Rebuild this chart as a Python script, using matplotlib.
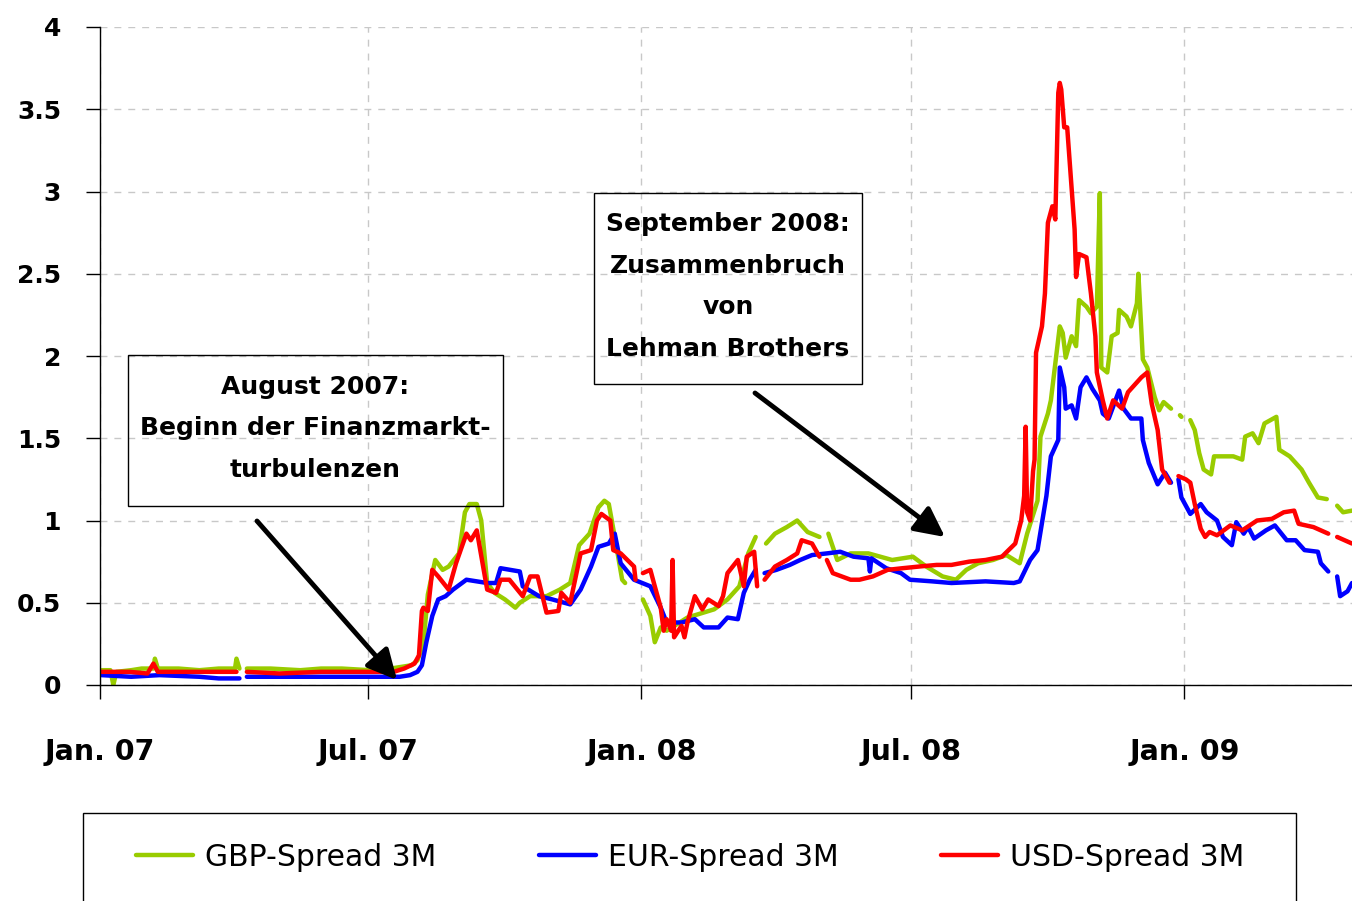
import matplotlib
matplotlib.use("Agg")
import matplotlib.pyplot as plt
from matplotlib.patches import Rectangle
import numpy as np
import pandas as pd

plt.rcParams['font.family'] = ['DejaVu Sans']

nan = np.nan

# GBP-Spread 3M (date, value); nan = no quote
gbp = [("2007-01-02", 0.09), ("2007-01-08", 0.09), ("2007-01-10", 0.00), ("2007-01-12", 0.08),
       ("2007-01-22", 0.09), ("2007-01-29", 0.10), ("2007-02-06", 0.10), ("2007-02-07", 0.16),
       ("2007-02-09", 0.10), ("2007-02-23", 0.10), ("2007-03-09", 0.09), ("2007-03-22", 0.10),
       ("2007-04-02", 0.10), ("2007-04-03", 0.16), ("2007-04-05", 0.10), ("2007-04-06", nan),
       ("2007-04-10", 0.10), ("2007-04-26", 0.10), ("2007-05-16", 0.09), ("2007-05-30", 0.10),
       ("2007-06-13", 0.10), ("2007-07-02", 0.09), ("2007-07-16", 0.10), ("2007-07-23", 0.11),
       ("2007-07-30", 0.12), ("2007-08-03", 0.15), ("2007-08-07", 0.25), ("2007-08-10", 0.55),
       ("2007-08-15", 0.76), ("2007-08-20", 0.70), ("2007-08-24", 0.72), ("2007-08-31", 0.80),
       ("2007-09-04", 1.05), ("2007-09-07", 1.10), ("2007-09-12", 1.10), ("2007-09-15", 1.00),
       ("2007-09-19", 0.62), ("2007-09-24", 0.56), ("2007-10-01", 0.52), ("2007-10-08", 0.47),
       ("2007-10-11", 0.50), ("2007-10-18", 0.54), ("2007-10-29", 0.54), ("2007-11-07", 0.58),
       ("2007-11-14", 0.62), ("2007-11-20", 0.85), ("2007-11-27", 0.92), ("2007-12-03", 1.08),
       ("2007-12-07", 1.12), ("2007-12-10", 1.10), ("2007-12-14", 0.90), ("2007-12-19", 0.64),
       ("2007-12-21", 0.62), ("2007-12-27", nan), ("2008-01-02", 0.52), ("2008-01-07", 0.42),
       ("2008-01-10", 0.26), ("2008-01-14", 0.35), ("2008-01-18", 0.33), ("2008-02-01", 0.41),
       ("2008-02-19", 0.46), ("2008-02-28", 0.52), ("2008-03-07", 0.60), ("2008-03-13", 0.80),
       ("2008-03-18", 0.90), ("2008-03-21", nan), ("2008-03-25", 0.86), ("2008-03-31", 0.92),
       ("2008-04-08", 0.96), ("2008-04-15", 1.00), ("2008-04-22", 0.93), ("2008-04-30", 0.90),
       ("2008-05-02", nan), ("2008-05-06", 0.92), ("2008-05-12", 0.76), ("2008-05-21", 0.80),
       ("2008-06-02", 0.80), ("2008-06-10", 0.78), ("2008-06-18", 0.76), ("2008-07-02", 0.78),
       ("2008-07-11", 0.72), ("2008-07-22", 0.66), ("2008-07-31", 0.64), ("2008-08-07", 0.70),
       ("2008-08-15", 0.74), ("2008-08-25", 0.76), ("2008-09-03", 0.79), ("2008-09-12", 0.74),
       ("2008-09-17", 0.92), ("2008-09-24", 1.12), ("2008-09-26", 1.51), ("2008-10-01", 1.65),
       ("2008-10-03", 1.73), ("2008-10-09", 2.18), ("2008-10-11", 2.14), ("2008-10-13", 1.99),
       ("2008-10-17", 2.12), ("2008-10-20", 2.06), ("2008-10-22", 2.34), ("2008-10-27", 2.30),
       ("2008-10-30", 2.26), ("2008-11-03", 2.30), ("2008-11-05", 2.99), ("2008-11-06", 1.93),
       ("2008-11-10", 1.90), ("2008-11-13", 2.12), ("2008-11-17", 2.14), ("2008-11-18", 2.28),
       ("2008-11-23", 2.24), ("2008-11-26", 2.18), ("2008-11-30", 2.32), ("2008-12-01", 2.50),
       ("2008-12-04", 1.98), ("2008-12-07", 1.93), ("2008-12-12", 1.75), ("2008-12-15", 1.67),
       ("2008-12-18", 1.72), ("2008-12-23", 1.68), ("2008-12-26", nan), ("2008-12-29", 1.64),
       ("2008-12-30", 1.63), ("2009-01-01", nan), ("2009-01-05", 1.61), ("2009-01-08", 1.55),
       ("2009-01-11", 1.41), ("2009-01-14", 1.31), ("2009-01-19", 1.28), ("2009-01-21", 1.39),
       ("2009-02-03", 1.39), ("2009-02-09", 1.37), ("2009-02-11", 1.51), ("2009-02-16", 1.53),
       ("2009-02-20", 1.47), ("2009-02-24", 1.59), ("2009-03-04", 1.63), ("2009-03-06", 1.43),
       ("2009-03-13", 1.39), ("2009-03-21", 1.31), ("2009-03-26", 1.23), ("2009-04-01", 1.14),
       ("2009-04-07", 1.13), ("2009-04-10", nan), ("2009-04-14", 1.09), ("2009-04-18", 1.05),
       ("2009-04-24", 1.06)]

# EUR-Spread 3M
eur = [("2007-01-02", 0.06), ("2007-01-22", 0.05), ("2007-02-10", 0.06), ("2007-03-09", 0.05),
       ("2007-03-22", 0.04), ("2007-04-05", 0.04), ("2007-04-06", nan), ("2007-04-10", 0.05),
       ("2007-05-16", 0.05), ("2007-06-13", 0.05), ("2007-07-01", 0.05), ("2007-07-22", 0.05),
       ("2007-07-29", 0.06), ("2007-08-03", 0.08), ("2007-08-06", 0.12), ("2007-08-09", 0.26),
       ("2007-08-13", 0.42), ("2007-08-17", 0.52), ("2007-08-22", 0.54), ("2007-08-27", 0.58),
       ("2007-09-05", 0.64), ("2007-09-19", 0.62), ("2007-09-25", 0.62), ("2007-09-28", 0.71),
       ("2007-10-11", 0.69), ("2007-10-13", 0.60), ("2007-10-24", 0.54), ("2007-11-02", 0.52),
       ("2007-11-14", 0.49), ("2007-11-21", 0.58), ("2007-11-28", 0.72), ("2007-12-03", 0.84),
       ("2007-12-10", 0.86), ("2007-12-14", 0.92), ("2007-12-18", 0.74), ("2007-12-27", 0.64),
       ("2008-01-07", 0.60), ("2008-01-14", 0.47), ("2008-01-18", 0.38), ("2008-01-28", 0.38),
       ("2008-02-06", 0.40), ("2008-02-12", 0.35), ("2008-02-22", 0.35), ("2008-02-28", 0.41),
       ("2008-03-06", 0.40), ("2008-03-10", 0.56), ("2008-03-14", 0.64), ("2008-03-18", 0.70),
       ("2008-03-21", nan), ("2008-03-24", 0.68), ("2008-04-01", 0.70), ("2008-04-10", 0.73),
       ("2008-04-17", 0.76), ("2008-04-25", 0.79), ("2008-05-05", 0.80), ("2008-05-14", 0.81),
       ("2008-05-23", 0.78), ("2008-06-02", 0.77), ("2008-06-03", 0.69), ("2008-06-04", 0.77),
       ("2008-06-14", 0.71), ("2008-06-24", 0.68), ("2008-06-30", 0.64), ("2008-07-15", 0.63),
       ("2008-07-28", 0.62), ("2008-08-20", 0.63), ("2008-09-08", 0.62), ("2008-09-12", 0.63),
       ("2008-09-19", 0.76), ("2008-09-24", 0.82), ("2008-09-30", 1.15), ("2008-10-03", 1.39),
       ("2008-10-08", 1.49), ("2008-10-09", 1.93), ("2008-10-12", 1.81), ("2008-10-13", 1.68),
       ("2008-10-17", 1.70), ("2008-10-20", 1.62), ("2008-10-23", 1.81), ("2008-10-27", 1.87),
       ("2008-10-31", 1.80), ("2008-11-05", 1.73), ("2008-11-07", 1.65), ("2008-11-11", 1.62),
       ("2008-11-18", 1.79), ("2008-11-21", 1.68), ("2008-11-26", 1.62), ("2008-12-03", 1.62),
       ("2008-12-04", 1.49), ("2008-12-08", 1.35), ("2008-12-14", 1.22), ("2008-12-19", 1.29),
       ("2008-12-23", 1.23), ("2008-12-25", nan), ("2008-12-28", 1.25), ("2008-12-30", 1.14),
       ("2009-01-05", 1.04), ("2009-01-12", 1.10), ("2009-01-16", 1.05), ("2009-01-23", 1.00),
       ("2009-01-27", 0.90), ("2009-02-02", 0.85), ("2009-02-05", 0.99), ("2009-02-10", 0.92),
       ("2009-02-13", 0.96), ("2009-02-17", 0.89), ("2009-02-25", 0.94), ("2009-03-03", 0.97),
       ("2009-03-11", 0.88), ("2009-03-17", 0.88), ("2009-03-23", 0.82), ("2009-04-01", 0.81),
       ("2009-04-03", 0.74), ("2009-04-08", 0.69), ("2009-04-10", nan), ("2009-04-14", 0.66),
       ("2009-04-16", 0.54), ("2009-04-21", 0.57), ("2009-04-24", 0.62)]

# USD-Spread 3M
usd = [("2007-01-02", 0.08), ("2007-01-21", 0.08), ("2007-02-02", 0.07), ("2007-02-06", 0.13),
       ("2007-02-09", 0.08), ("2007-03-09", 0.08), ("2007-04-03", 0.08), ("2007-04-06", nan),
       ("2007-04-10", 0.08), ("2007-05-02", 0.07), ("2007-05-30", 0.08), ("2007-07-01", 0.08),
       ("2007-07-18", 0.08), ("2007-07-25", 0.10), ("2007-08-01", 0.13), ("2007-08-04", 0.18),
       ("2007-08-06", 0.45), ("2007-08-07", 0.47), ("2007-08-10", 0.45), ("2007-08-13", 0.70),
       ("2007-08-17", 0.66), ("2007-08-24", 0.58), ("2007-08-29", 0.74), ("2007-09-05", 0.92),
       ("2007-09-08", 0.88), ("2007-09-12", 0.94), ("2007-09-19", 0.58), ("2007-09-25", 0.56),
       ("2007-09-28", 0.64), ("2007-10-04", 0.64), ("2007-10-13", 0.54), ("2007-10-18", 0.66),
       ("2007-10-23", 0.66), ("2007-10-29", 0.44), ("2007-11-06", 0.45), ("2007-11-08", 0.56),
       ("2007-11-14", 0.50), ("2007-11-21", 0.80), ("2007-11-28", 0.82), ("2007-12-02", 1.00),
       ("2007-12-05", 1.04), ("2007-12-11", 1.00), ("2007-12-13", 0.82), ("2007-12-18", 0.80),
       ("2007-12-27", 0.72), ("2007-12-28", 0.64), ("2007-12-31", nan), ("2008-01-02", 0.68),
       ("2008-01-07", 0.70), ("2008-01-10", 0.60), ("2008-01-14", 0.47), ("2008-01-16", 0.33),
       ("2008-01-18", 0.40), ("2008-01-21", 0.33), ("2008-01-22", 0.76), ("2008-01-23", 0.29),
       ("2008-01-28", 0.36), ("2008-01-30", 0.29), ("2008-02-01", 0.38), ("2008-02-06", 0.54),
       ("2008-02-11", 0.46), ("2008-02-15", 0.52), ("2008-02-22", 0.48), ("2008-02-25", 0.54),
       ("2008-02-28", 0.68), ("2008-03-06", 0.76), ("2008-03-10", 0.60), ("2008-03-12", 0.78),
       ("2008-03-17", 0.81), ("2008-03-19", 0.60), ("2008-03-21", nan), ("2008-03-24", 0.64),
       ("2008-03-31", 0.72), ("2008-04-08", 0.76), ("2008-04-15", 0.80), ("2008-04-18", 0.88),
       ("2008-04-25", 0.86), ("2008-04-30", 0.78), ("2008-05-02", nan), ("2008-05-05", 0.76),
       ("2008-05-09", 0.68), ("2008-05-21", 0.64), ("2008-05-27", 0.64), ("2008-06-05", 0.66),
       ("2008-06-15", 0.70), ("2008-06-25", 0.71), ("2008-07-06", 0.72), ("2008-07-18", 0.73),
       ("2008-07-28", 0.73), ("2008-08-09", 0.75), ("2008-08-20", 0.76), ("2008-08-31", 0.78),
       ("2008-09-09", 0.86), ("2008-09-13", 1.00), ("2008-09-15", 1.15), ("2008-09-16", 1.57),
       ("2008-09-17", 1.05), ("2008-09-19", 1.00), ("2008-09-21", 1.30), ("2008-09-22", 1.37),
       ("2008-09-23", 2.02), ("2008-09-27", 2.18), ("2008-09-29", 2.38), ("2008-10-01", 2.81),
       ("2008-10-04", 2.91), ("2008-10-06", 2.83), ("2008-10-08", 3.60), ("2008-10-09", 3.66),
       ("2008-10-10", 3.62), ("2008-10-12", 3.39), ("2008-10-14", 3.39), ("2008-10-19", 2.77),
       ("2008-10-20", 2.48), ("2008-10-22", 2.62), ("2008-10-27", 2.60), ("2008-10-30", 2.38),
       ("2008-11-02", 2.12), ("2008-11-03", 1.90), ("2008-11-07", 1.73), ("2008-11-10", 1.62),
       ("2008-11-14", 1.73), ("2008-11-20", 1.68), ("2008-11-24", 1.78), ("2008-11-27", 1.81),
       ("2008-12-03", 1.87), ("2008-12-07", 1.90), ("2008-12-10", 1.71), ("2008-12-14", 1.55),
       ("2008-12-17", 1.31), ("2008-12-22", 1.23), ("2008-12-25", nan), ("2008-12-28", 1.27),
       ("2009-01-02", 1.25), ("2009-01-05", 1.23), ("2009-01-08", 1.10), ("2009-01-12", 0.95),
       ("2009-01-15", 0.90), ("2009-01-18", 0.93), ("2009-01-23", 0.91), ("2009-02-01", 0.97),
       ("2009-02-09", 0.94), ("2009-02-19", 1.00), ("2009-03-01", 1.01), ("2009-03-09", 1.05),
       ("2009-03-16", 1.06), ("2009-03-19", 0.98), ("2009-03-29", 0.96), ("2009-04-08", 0.92),
       ("2009-04-10", nan), ("2009-04-14", 0.90), ("2009-04-24", 0.86)]

labels = ["GBP-Spread 3M", "EUR-Spread 3M", "USD-Spread 3M"]
colors = ["#99cc00", "#0000ff", "#ff0000"]

fig = plt.figure(figsize=(13.52, 9.01), dpi=100)
ax = fig.add_axes([100 / 1352, 216 / 901, 1252 / 1352, 658 / 901])

handles = []
for data, name, c in zip([gbp, eur, usd], labels, colors):
    d, v = zip(*data)
    h, = ax.plot(pd.to_datetime(list(d)), np.array(v, dtype=float), color=c, lw=3.2,
                 label=name, solid_joinstyle='round', solid_capstyle='round')
    handles.append(h)

ax.set_xlim(pd.Timestamp("2007-01-01"), pd.Timestamp("2009-04-24"))
ax.set_ylim(0, 4)

xt = pd.to_datetime(["2007-01-01", "2007-07-01", "2008-01-01", "2008-07-01", "2009-01-01"])
ax.set_xticks(xt)
ax.set_xticklabels(["Jan. 07", "Jul. 07", "Jan. 08", "Jul. 08", "Jan. 09"], fontweight='bold')
yt = np.arange(0, 4.01, 0.5)
ax.set_yticks(yt)
ax.set_yticklabels(["%g" % t for t in yt], fontweight='bold')

ax.tick_params(axis='x', direction='out', length=10, width=1, pad=28, labelsize=20.5)
ax.tick_params(axis='y', direction='out', length=10, width=1, pad=18, labelsize=18)

for s in ['top', 'right']:
    ax.spines[s].set_visible(False)
for s in ['left', 'bottom']:
    ax.spines[s].set_linewidth(1)
    ax.spines[s].set_color('black')

ax.grid(True, ls=(0, (5, 5)), color='#c8c8c8', lw=1)
ax.set_axisbelow(True)

# annotation boxes
fig.add_artist(Rectangle((128 / 1352, (901 - 506) / 901), 375 / 1352, 151 / 901,
                         transform=fig.transFigure, fill=False, ec='black', lw=1))
fig.add_artist(Rectangle((594 / 1352, (901 - 384) / 901), 268 / 1352, 191 / 901,
                         transform=fig.transFigure, fill=False, ec='black', lw=1))

box1 = ["August 2007:", "Beginn der Finanzmarkt-", "turbulenzen"]
for i, t in enumerate(box1):
    fig.text(315 / 1352, 1 - (387 + 41.5 * i) / 901, t, ha='center', va='center',
             fontsize=18, fontweight='bold')
box2 = ["September 2008:", "Zusammenbruch", "von", "Lehman Brothers"]
for i, t in enumerate(box2):
    fig.text(728 / 1352, 1 - (224 + 41.7 * i) / 901, t, ha='center', va='center',
             fontsize=18, fontweight='bold')

arrow = dict(arrowstyle='-|>', lw=3.5, color='black', mutation_scale=45, shrinkA=0, shrinkB=0)
ax.annotate('', xy=(397, 901 - 680), xytext=(257, 901 - 521),
            xycoords='figure pixels', textcoords='figure pixels', arrowprops=arrow)
ax.annotate('', xy=(945, 901 - 537), xytext=(755, 901 - 393),
            xycoords='figure pixels', textcoords='figure pixels', arrowprops=arrow)

# legend, frame runs off the bottom edge like in the source
fig.add_artist(Rectangle((83 / 1352, -4 / 901), 1213 / 1352, 92 / 901,
                         transform=fig.transFigure, fill=False, ec='black', lw=1))
leg = fig.legend(handles=handles, loc='center', bbox_to_anchor=(690 / 1352, 44 / 901),
                 ncol=3, fontsize=21.5, frameon=False,
                 handlelength=1.9, handletextpad=0.4, columnspacing=3.45)

fig.savefig("out.png", dpi=100)
